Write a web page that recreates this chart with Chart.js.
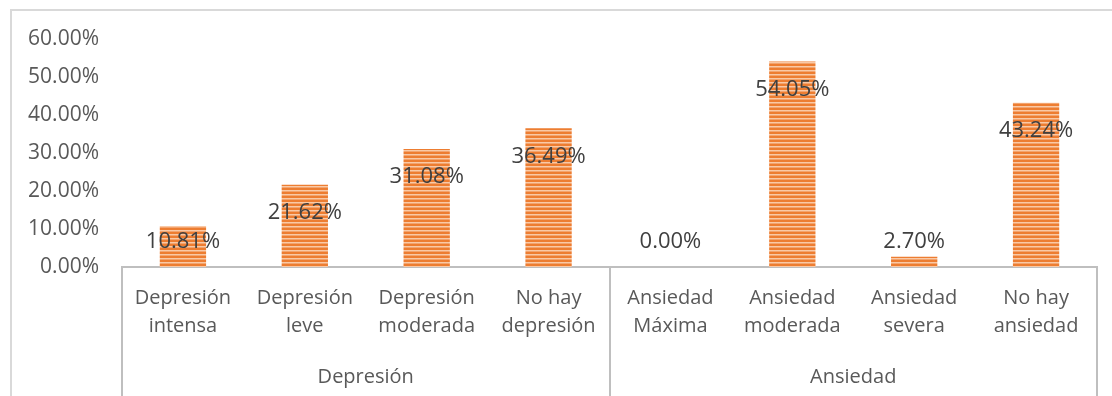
<!DOCTYPE html>
<html>
<head>
<meta charset="utf-8">
<script src="https://cdn.jsdelivr.net/npm/chart.js@4.4.1/dist/chart.umd.min.js"></script>
<style>
  body { margin: 0; background: #fff; }
  #wrap { position: relative; width: 1112px; height: 396px; overflow: hidden; }
  #frame { position: absolute; left: 10px; top: 9px; width: 1200px; height: 500px;
           border-left: 2px solid #d9d9d9; border-top: 2px solid #d9d9d9; }
  #chart { position: absolute; left: 0; top: 0; }
</style>
</head>
<body>
<div id="wrap">
  <div id="frame"></div>
  <canvas id="chart" width="1112" height="396"></canvas>
</div>
<script>
//categories, two lines each like the original axis
const categories = [
    ['Depresión', 'intensa'], ['Depresión', 'leve'], ['Depresión', 'moderada'], ['No hay', 'depresión'],
    ['Ansiedad', 'Máxima'], ['Ansiedad', 'moderada'], ['Ansiedad', 'severa'], ['No hay', 'ansiedad']
];
const groups = ['Depresión', 'Ansiedad'];
const groupSize = 4;
const percentages = [10.81, 21.62, 31.08, 36.49, 0.00, 54.05, 2.70, 43.24];
const yTicks = [0, 10, 20, 30, 40, 50, 60];

//striped orange fill like the excel bars
function stripedFill() {
    const c = document.createElement('canvas');
    c.width = 4; c.height = 4;
    const g = c.getContext('2d');
    g.fillStyle = '#ED7D31'; g.fillRect(0, 0, 4, 4);
    g.fillStyle = '#F9C9A6'; g.fillRect(0, 2, 4, 1);
    g.fillStyle = '#F3A46E'; g.fillRect(0, 3, 4, 1);
    return g.createPattern(c, 'repeat');
}

//value labels, sitting inside the top of the bar (kept above the axis for tiny bars)
const valueLabels = {
    id: 'valueLabels',
    afterDatasetsDraw(chart) {
        const ctx = chart.ctx;
        const meta = chart.getDatasetMeta(0);
        ctx.save();
        ctx.font = '22px "Open Sans"';
        ctx.fillStyle = '#404040';
        ctx.textAlign = 'center';
        ctx.textBaseline = 'middle';
        meta.data.forEach((bar, i) => {
            const y = Math.min(bar.y + 28, bar.base - 25);
            ctx.fillText(percentages[i].toFixed(2) + '%', bar.x, y);
        });
        ctx.restore();
    }
};

//vertical separators between the two groups, from the axis down
const groupLines = {
    id: 'groupLines',
    afterDraw(chart) {
        const ctx = chart.ctx;
        const x = chart.scales.x;
        const area = chart.chartArea;
        const half = (x.getPixelForValue(1) - x.getPixelForValue(0)) / 2;
        ctx.save();
        ctx.strokeStyle = '#bfbfbf';
        ctx.lineWidth = 2;
        for (let i = 0; i <= categories.length; i += groupSize) {
            const px = Math.round(x.getPixelForValue(i) - half);
            ctx.beginPath();
            ctx.moveTo(px, area.bottom);
            ctx.lineTo(px, chart.height);
            ctx.stroke();
        }
        ctx.restore();
    }
};

Chart.defaults.font.family = '"Open Sans", sans-serif';
Chart.defaults.font.size = 20;
Chart.defaults.color = '#595959';

new Chart('chart', {
    type: 'bar',
    data: {
        labels: categories,
        datasets: [{
            data: percentages,
            backgroundColor: stripedFill(),
            barPercentage: 0.38,
            categoryPercentage: 1
        }]
    },
    options: {
        responsive: false,
        animation: false,
        layout: { padding: { top: 39, right: 15, left: 0, bottom: 0 } },
        plugins: { legend: { display: false }, tooltip: { enabled: false } },
        scales: {
            y: {
                min: 0, max: 60,
                afterBuildTicks: s => { s.ticks = yTicks.map(v => ({ value: v })); },
                afterFit: s => { s.width = 122; },
                ticks: { padding: 23, font: { size: 21 }, callback: v => v.toFixed(2) + '%' },
                grid: { display: false, drawTicks: false },
                border: { display: false }
            },
            x: {
                afterFit: s => { s.height = 90; },
                ticks: { padding: 17, maxRotation: 0, autoSkip: false, font: { lineHeight: '28px' } },
                grid: { display: false, drawTicks: false },
                border: { display: true, color: '#bfbfbf', width: 2 }
            },
            x2: {
                type: 'category',
                position: 'bottom',
                labels: groups,
                afterFit: s => { s.height = 39; },
                ticks: { padding: 6, font: { lineHeight: '28px' } },
                grid: { display: false, drawTicks: false },
                border: { display: false }
            }
        }
    },
    plugins: [valueLabels, groupLines]
});
</script>
</body>
</html>
